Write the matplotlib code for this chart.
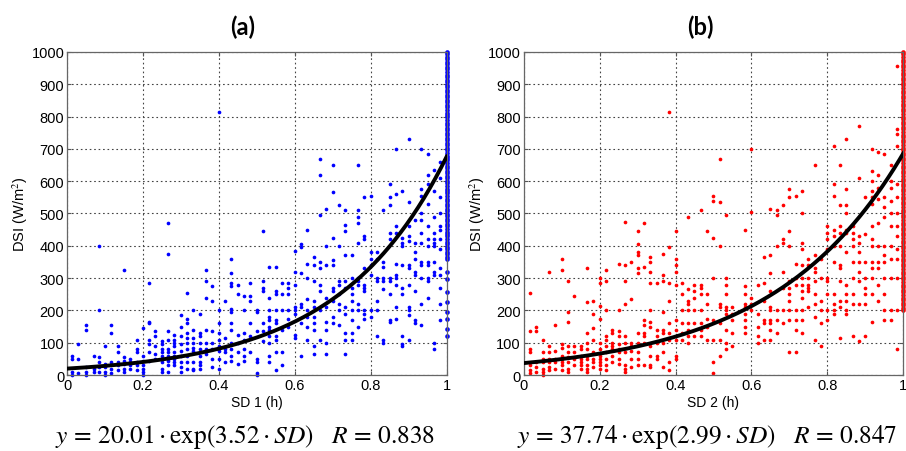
import numpy as np
import matplotlib
matplotlib.use('Agg')
import matplotlib.pyplot as plt

# ---- panel (a): SD 1 ----
sd1_x = [0.013, 0.03, 0.05, 0.07, 0.083, 0.1, 0.117, 0.133, 0.15, 0.167, 0.183, 0.2,
         0.217, 0.233, 0.25, 0.267, 0.283, 0.3, 0.317, 0.333, 0.35, 0.367, 0.383, 0.4,
         0.417, 0.433, 0.45, 0.467, 0.483, 0.5, 0.517, 0.533, 0.55, 0.567, 0.583, 0.6,
         0.617, 0.633, 0.65, 0.667, 0.683, 0.7, 0.717, 0.733, 0.75, 0.767, 0.783, 0.8,
         0.817, 0.833, 0.85, 0.867, 0.883, 0.9, 0.917, 0.933, 0.95, 0.967, 0.983]
sd1_y = [
    [60, 50, 10, 0], [95, 50, 5], [155, 140, 25, 10, 0], [60, 20, 10],
    [400, 200, 55, 40, 25, 10], [90, 35, 25, 10, 0], [155, 130, 40, 20, 5],
    [90, 70, 40, 30, 15], [325, 55, 45, 35, 20, 10], [50, 40, 30, 20],
    [110, 80, 70, 40, 30, 15], [145, 60, 45, 30, 20, 10, 0],
    [285, 165, 160, 110, 95, 70, 45], [135, 120, 90, 65, 50],
    [105, 95, 80, 70, 60, 50, 40, 20, 10], [470, 375, 135, 110, 80, 70, 60, 50, 45, 30, 10],
    [125, 110, 100, 90, 70, 60, 50, 40, 30], [185, 150, 120, 95, 75, 60, 40, 25, 10],
    [255, 175, 160, 130, 115, 100, 80, 60, 40, 20], [200, 140, 115, 100, 85, 75, 40, 20, 15],
    [190, 130, 120, 100, 80, 60, 40, 30, 20], [325, 290, 240, 140, 100, 80, 65],
    [275, 230, 135, 100, 80, 50, 25], [815, 200, 160, 130, 110, 90, 75, 50, 20],
    [230, 115, 80, 70, 40], [360, 315, 285, 275, 205, 195, 160, 140, 100, 80, 60, 45],
    [280, 250, 125, 100, 70, 35], [245, 200, 130, 110, 80, 60, 45],
    [285, 245, 230, 160, 120, 70], [200, 195, 135, 50, 40, 5, 0],
    [445, 290, 270, 260, 160, 135, 105], [335, 240, 200, 180, 170, 150, 140, 120, 100, 60, 40],
    [335, 260, 250, 200, 170, 160, 120, 110, 70, 15], [285, 250, 200, 140, 70, 30],
    [285, 270, 250, 200, 175, 150], [385, 320, 280, 210, 200, 190, 125, 115],
    [405, 395, 315, 220, 210, 160, 60], [450, 345, 300, 235, 200, 180, 150, 110],
    [365, 340, 290, 230, 210, 180, 160, 140, 90, 65],
    [670, 620, 495, 350, 330, 280, 260, 200, 110], [515, 400, 340, 240, 210, 165, 140, 100, 65],
    [650, 565, 425, 355, 340, 270, 260, 230, 180, 160], [525, 400, 290, 280, 250, 220, 200, 155],
    [510, 465, 445, 370, 290, 270, 210, 190, 130, 110, 65],
    [370, 300, 270, 250, 230, 200, 170, 130, 110],
    [650, 510, 490, 470, 410, 300, 290, 280, 220, 200, 150],
    [550, 430, 420, 330, 280, 270, 260, 200, 190, 175], [555, 380, 360, 340, 310, 200, 180],
    [380, 360, 300, 290, 230, 200, 120], [510, 350, 335, 300, 290, 265, 110, 100],
    [590, 550, 525, 440, 420, 300, 290, 250, 170, 165],
    [700, 560, 460, 440, 345, 310, 300, 280, 210, 175],
    [570, 425, 410, 400, 340, 270, 250, 120, 95, 90],
    [730, 535, 460, 430, 415, 340, 330, 280, 210, 200, 185, 110],
    [480, 410, 380, 360, 320, 310, 260, 170, 160],
    [700, 575, 555, 500, 480, 440, 410, 350, 340, 300, 220, 155],
    [685, 620, 590, 530, 460, 420, 400, 350, 340, 300, 290, 240],
    [635, 570, 490, 440, 420, 410, 400, 350, 320, 310, 100, 80],
    [660, 610, 550, 500, 460, 450, 420, 390, 330, 310, 270, 220, 170],
]
# saturated column at SD = 1
sd1_full = [1000, 993, 985, 977, 969, 961, 953, 946, 938, 930, 922, 914, 906, 899, 891, 883,
            875, 867, 859, 852, 844, 836, 828, 820, 812, 805, 797, 789, 781, 773, 765, 758,
            750, 742, 734, 726, 718, 711, 703, 695, 687, 679, 671, 664, 656, 648, 640, 632,
            624, 617, 609, 601, 593, 585, 577, 570, 562, 554, 546, 538, 530, 523, 515, 507,
            499, 491, 483, 476, 468, 460, 452, 444, 436, 429, 421, 413, 405, 397, 389, 382,
            374, 366, 358, 318, 297, 257, 226, 195, 173, 142, 121]

# ---- panel (b): SD 2 ----
sd2_x = [0.017, 0.033, 0.05, 0.067, 0.083, 0.1, 0.117, 0.133, 0.15, 0.167, 0.183, 0.2,
         0.217, 0.233, 0.25, 0.267, 0.283, 0.3, 0.317, 0.333, 0.35, 0.367, 0.383, 0.4,
         0.417, 0.433, 0.45, 0.467, 0.483, 0.5, 0.517, 0.533, 0.55, 0.583, 0.6, 0.617,
         0.633, 0.65, 0.667, 0.683, 0.7, 0.717, 0.733, 0.75, 0.767, 0.783, 0.8, 0.817,
         0.833, 0.85, 0.867, 0.883, 0.9, 0.917, 0.933, 0.95, 0.967, 0.983]
sd2_y = [
    [255, 135, 80, 70, 30, 15, 5], [150, 135, 40, 25, 10], [110, 70, 50, 40, 20, 10, 0],
    [320, 90, 70, 50, 40, 25, 15], [155, 75, 50, 40, 20],
    [360, 325, 95, 85, 60, 50, 40, 30, 15], [290, 195, 165, 90, 70, 55, 40, 20, 10],
    [245, 90, 70, 50, 30], [90, 80, 60, 50, 40, 30, 20],
    [330, 225, 130, 100, 80, 60, 50, 30, 20, 10], [230, 190, 145, 110, 70, 50, 40, 25],
    [300, 285, 215, 175, 100, 80, 60, 50, 40, 30, 20],
    [325, 290, 200, 120, 110, 90, 70, 50, 30, 15], [140, 130, 100, 90, 80, 60, 40],
    [345, 200, 135, 120, 95, 80, 70, 50, 35], [475, 340, 290, 220, 120, 100, 70, 30, 20, 10],
    [350, 235, 100, 90, 75, 50, 25], [445, 405, 380, 370, 330, 315, 130, 100, 70, 50, 30],
    [470, 335, 170, 155, 130, 120, 100, 30],
    [365, 350, 320, 285, 200, 165, 150, 90, 60, 30, 25], [285, 140, 120, 100, 60, 50],
    [375, 310, 290, 195, 140, 130, 100, 70, 25], [815, 395, 285, 230, 160, 130, 110, 40, 15],
    [445, 360, 340, 320, 280, 170, 140, 110, 60, 50], [285, 250, 200, 160, 130, 110],
    [490, 265, 230, 220, 200, 160, 140, 120, 100], [280, 260, 240, 200, 160, 120],
    [510, 280, 270, 250, 200, 160, 140, 120], [445, 250, 220, 175, 150, 110],
    [555, 540, 425, 300, 170, 110, 40, 5], [670, 535, 400, 220, 210, 160, 110, 60],
    [495, 300, 280, 250, 210, 200, 190, 140, 100, 80], [210, 190, 170, 130, 90],
    [450, 275, 250, 220, 210, 190, 170, 150, 130], [700, 505, 240, 220, 200],
    [280, 190, 150, 120, 100], [365, 285, 230, 170, 160, 110],
    [515, 370, 315, 260, 210, 200, 170, 160, 140, 110], [510, 495, 400, 200, 170, 130],
    [525, 420, 410, 320, 270, 200, 160], [575, 550, 445, 400, 290, 270, 250, 230, 200, 170, 70],
    [555, 345, 300, 280, 200, 170, 140, 70],
    [570, 500, 410, 390, 340, 300, 280, 260, 240, 200, 170, 130],
    [360, 340, 300, 280, 270, 260, 210], [650, 370, 330, 320, 290, 250, 220, 180, 110],
    [360, 300, 230, 200, 160, 90], [460, 440, 420, 390, 300, 290, 250, 200, 170],
    [710, 590, 555, 450, 430, 400, 350, 250, 220, 200, 190],
    [650, 525, 460, 440, 400, 340, 330, 290, 230, 210, 115],
    [730, 575, 525, 500, 450, 440, 380, 280, 250, 230, 200, 190],
    [460, 440, 420, 400, 350, 300, 250, 220, 120],
    [770, 610, 430, 410, 380, 350, 320, 290, 220, 105],
    [550, 435, 350, 300, 270, 250, 220, 120],
    [700, 630, 600, 570, 550, 530, 460, 420, 400, 350, 330, 300, 250, 165],
    [690, 620, 580, 545, 470, 400, 350, 330, 280, 230],
    [685, 550, 520, 490, 400, 370, 350, 300, 250, 200, 170],
    [650, 600, 580, 540, 500, 460, 400, 360, 300, 200, 170],
    [955, 760, 745, 710, 590, 550, 500, 460, 430, 390, 360, 300, 200, 80],
]
sd2_full = [1000, 992, 984, 976, 968, 960, 952, 944, 936, 928, 920, 912, 904, 896, 888, 880,
            872, 864, 856, 848, 840, 832, 824, 816, 808, 800, 792, 784, 776, 768, 760, 752,
            744, 736, 728, 720, 712, 704, 696, 688, 680, 672, 664, 656, 648, 640, 632, 624,
            616, 608, 600, 592, 584, 576, 568, 560, 552, 544, 536, 528, 520, 512, 504, 496,
            488, 480, 472, 464, 456, 448, 440, 432, 424, 416, 408, 400, 392, 384, 376, 368,
            360, 352, 344, 336, 328, 320, 312, 304, 296, 288, 280, 272, 264, 256, 248, 240,
            232, 224, 216, 208, 200]

# fitted curve y = a*exp(b*SD) as drawn in each panel
fit_a = (20.01, 3.52)
fit_b = (37.0, 2.92)

titles = ['(a)', '(b)']
xlabels = ['SD 1 (h)', 'SD 2 (h)']
eqs = [r'$y\,=\,20.01\cdot\mathrm{exp}(3.52\cdot SD)\quad R\,=\,0.838$',
       r'$y\,=\,37.74\cdot\mathrm{exp}(2.99\cdot SD)\quad R\,=\,0.847$']
title_x = [0.268, 0.773]
eq_x = [0.27, 0.781]

plt.rcParams['font.family'] = ['Liberation Sans', 'DejaVu Sans']
plt.rcParams['mathtext.fontset'] = 'stix'

fig = plt.figure(figsize=(9.06, 4.52), dpi=100)
axes = [fig.add_axes([0.074, 0.168, 0.419, 0.715]),
        fig.add_axes([0.578, 0.168, 0.419, 0.715])]

panels = [(sd1_x, sd1_y, sd1_full, fit_a, 'blue'),
          (sd2_x, sd2_y, sd2_full, fit_b, 'red')]

for i, (ax, (xs, ys, full, fit, col)) in enumerate(zip(axes, panels)):
    px = np.concatenate([[x] * len(y) for x, y in zip(xs, ys)])
    py = np.concatenate([np.array(y, float) for y in ys])
    ax.scatter(px, py, s=7, c=col, marker='o', linewidths=0, zorder=2, clip_on=False)
    ax.scatter([1.0] * len(full), full, s=11, c=col, marker='o', linewidths=0,
               zorder=2, clip_on=False)
    xx = np.linspace(0, 1, 200)
    ax.plot(xx, fit[0] * np.exp(fit[1] * xx), color='black', lw=2.8, zorder=3)

    ax.set_xlim(0, 1)
    ax.set_ylim(0, 1000)
    ax.set_xticks([0, 0.2, 0.4, 0.6, 0.8, 1])
    ax.set_xticklabels(['0', '0.2', '0.4', '0.6', '0.8', '1'])
    ax.set_yticks(range(0, 1001, 100))
    ax.grid(True, color='#444444', linestyle=(0, (1.5, 2.5)), lw=0.8)
    ax.set_axisbelow(True)
    ax.tick_params(direction='in', length=3, labelsize=10.5, top=True, right=True,
                   color='#555555', pad=2)
    for s in ax.spines.values():
        s.set_color('#666666')
        s.set_linewidth(0.9)
    ax.set_xlabel(xlabels[i], fontsize=10, labelpad=2)
    ax.set_ylabel(r'DSI (W/m$^2$)', fontsize=10.5, labelpad=1)

    fig.text(title_x[i], 0.94, titles[i], ha='center', va='center', fontsize=17,
             fontweight='bold', family=['Lato', 'DejaVu Sans'])
    fig.text(eq_x[i], 0.033, eqs[i], ha='center', va='center', fontsize=18.3)

fig.savefig('out.png', dpi=100, facecolor='white')
